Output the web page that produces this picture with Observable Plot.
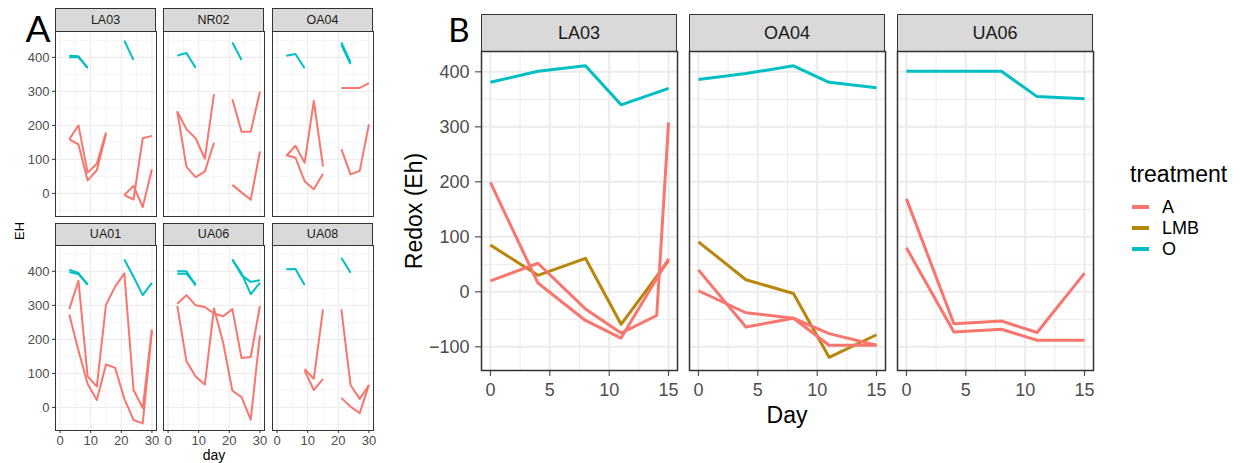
<!DOCTYPE html>
<html><head><meta charset="utf-8">
<script src="https://cdn.jsdelivr.net/npm/d3@7"></script>
<script src="https://cdn.jsdelivr.net/npm/@observablehq/plot@0.6"></script>
<style>
html,body{margin:0;padding:0;background:#fff;}
#fig{position:relative;width:1244px;height:463px;overflow:hidden;background:#fff;font-family:"Liberation Sans",Arial,sans-serif;}
.txt{position:absolute;white-space:nowrap;line-height:1;color:#000;}
.strip{position:absolute;box-sizing:border-box;background:#D9D9D9;border:1px solid #333;color:#1A1A1A;display:flex;align-items:center;justify-content:center;line-height:1;}
svg{overflow:visible;}
</style></head><body><div id="fig"></div>
<script>
// ---------- shared ----------
const treatments = ["A", "LMB", "O"];
const treatmentColors = ["#F8766D", "#B8860B", "#00BFC4"];

// ---------- Panel A (EH by day, six sites) ----------
const sitesA = ["LA03", "NR02", "OA04", "UA01", "UA06", "UA08"];
const xTicksA = [0, 10, 20, 30];
const xMinorA = [5, 15, 25];
const yTicksA = [0, 100, 200, 300, 400];
const yMinorA = [-50, 50, 150, 250, 350, 450];
// each line: [treatment, days, EH]
const ehLA03 = [
  ["O", [3, 6, 9], [405, 403, 368]],
  ["O", [3, 6, 9], [400, 400, 370]],
  ["O", [21, 24], [449, 392]],
  ["A", [3, 6, 9, 12, 15], [159, 200, 61, 87, 179]],
  ["A", [3, 6, 9, 12, 15], [159, 144, 38, 68, 174]],
  ["A", [21, 24, 27, 30], [-5, 22, -40, 71]],
  ["A", [21, 24, 27, 30], [-5, -18, 162, 169]]
];
const ehNR02 = [
  ["O", [3, 6, 9], [405, 413, 369]],
  ["O", [21, 24], [444, 392]],
  ["A", [3, 6, 9, 12, 15], [241, 189, 162, 102, 292]],
  ["A", [3, 6, 9, 12, 15], [241, 78, 48, 64, 149]],
  ["A", [21, 24, 27, 30], [277, 181, 181, 299]],
  ["A", [21, 24, 27, 30], [25, 3, -19, 123]]
];
const ehOA04 = [
  ["O", [3, 6, 9], [405, 410, 368]],
  ["O", [21, 24], [444, 385]],
  ["O", [21, 24], [437, 380]],
  ["A", [3, 6, 9, 12, 15], [110, 140, 90, 272, 79]],
  ["A", [3, 6, 9, 12, 15], [113, 105, 36, 12, 58]],
  ["A", [21, 24, 27, 30], [310, 310, 310, 324]],
  ["A", [21, 24, 27, 30], [130, 56, 66, 203]]
];
const ehUA01 = [
  ["O", [3, 6, 9], [405, 395, 360]],
  ["O", [3, 6, 9], [398, 392, 362]],
  ["O", [21, 24, 27, 30], [435, 384, 330, 366]],
  ["A", [3, 6, 9, 12, 15, 18, 21, 24, 27, 30], [289, 372, 91, 61, 302, 355, 394, 51, -2, 229]],
  ["A", [3, 6, 9, 12, 15, 18, 21, 24, 27, 30], [273, 167, 69, 22, 126, 116, 25, -37, -47, 225]]
];
const ehUA06 = [
  ["O", [3, 6, 9], [400, 400, 358]],
  ["O", [3, 6, 9], [393, 393, 362]],
  ["O", [21, 24, 27, 30], [435, 389, 369, 374]],
  ["O", [21, 24, 27, 30], [435, 394, 333, 366]],
  ["A", [3, 6, 9, 12, 15, 18, 21, 24, 27, 30], [305, 330, 300, 295, 276, 268, 289, 145, 148, 298]],
  ["A", [3, 6, 9, 12, 15, 18, 21, 24, 27, 30], [298, 136, 91, 67, 291, 190, 49, 30, -36, 212]]
];
const ehUA08 = [
  ["O", [3, 6, 9], [406, 407, 360]],
  ["O", [21, 24], [440, 396]],
  ["A", [9, 12, 15], [113, 84, 288]],
  ["A", [9, 12, 15], [108, 51, 84]],
  ["A", [21, 24, 27, 30], [288, 66, 25, 66]],
  ["A", [21, 24, 27, 30], [28, 2, -17, 66]]
];
const linesA = [ehLA03, ehNR02, ehOA04, ehUA01, ehUA06, ehUA08];

// ---------- Panel B (Redox by Day, three sites) ----------
const sitesB = ["LA03", "OA04", "UA06"];
const xTicksB = [0, 5, 10, 15];
const xMinorB = [2.5, 7.5, 12.5];
const yTicksB = [-100, 0, 100, 200, 300, 400];
const yMinorB = [-50, 50, 150, 250, 350];
const redoxLA03 = [
  ["O", [0, 4, 8, 11, 15], [381, 401, 411, 340, 370]],
  ["LMB", [0, 4, 8, 11, 15], [85, 30, 61, -59, 57]],
  ["A", [0, 4, 8, 11, 15], [199, 16, -52, -84, 60]],
  ["A", [0, 4, 8, 11, 14, 15], [20, 52, -31, -75, -43, 308]]
];
const redoxOA04 = [
  ["O", [0, 4, 8, 11, 15], [386, 397, 411, 381, 371]],
  ["LMB", [0, 4, 8, 11, 15], [91, 22, -3, -119, -78]],
  ["A", [0, 4, 8, 11, 15], [40, -64, -48, -97, -97]],
  ["A", [0, 4, 8, 11, 15], [2, -38, -48, -76, -97]]
];
const redoxUA06 = [
  ["O", [0, 4, 8, 11, 15], [401, 401, 401, 355, 351]],
  ["A", [0, 4, 8, 11, 15], [169, -58, -53, -74, 34]],
  ["A", [0, 4, 8, 11, 15], [80, -73, -68, -88, -88]]
];
const linesB = [redoxLA03, redoxOA04, redoxUA06];

// ---------- helpers ----------
const fig = document.getElementById("fig");
function rows(lines) {
  const out = [];
  lines.forEach((l, i) => l[1].forEach((d, j) => out.push({trt: l[0], day: d, v: l[2][j], id: i})));
  return out;
}
function addText(str, cx, cy, size, opts = {}) {
  const d = document.createElement("div");
  d.className = "txt";
  d.textContent = str;
  d.style.fontSize = size + "px";
  if (opts.family) d.style.fontFamily = opts.family;
  if (opts.lineHeight) d.style.lineHeight = opts.lineHeight;
  d.style.left = cx + "px";
  d.style.top = cy + "px";
  d.style.transform = "translate(-50%,-50%)" + (opts.rotate ? " rotate(-90deg)" : "");
  fig.appendChild(d);
  return d;
}
function addStrip(label, left, top, w, h, size) {
  const d = document.createElement("div");
  d.className = "strip";
  d.textContent = label;
  d.style.left = left + "px"; d.style.top = top + "px";
  d.style.width = w + "px"; d.style.height = h + "px";
  d.style.fontSize = size + "px";
  fig.appendChild(d);
}
function facet(o) {
  const mL = 70, mR = 6, mT = 6, mB = 40;
  const marks = [
    Plot.gridX({ticks: o.xMinor, stroke: "#EBEBEB", strokeOpacity: 1, strokeWidth: o.gridMinorW}),
    Plot.gridY({ticks: o.yMinor, stroke: "#EBEBEB", strokeOpacity: 1, strokeWidth: o.gridMinorW}),
    Plot.gridX({ticks: o.xTicks, stroke: "#EBEBEB", strokeOpacity: 1, strokeWidth: o.gridW}),
    Plot.gridY({ticks: o.yTicks, stroke: "#EBEBEB", strokeOpacity: 1, strokeWidth: o.gridW}),
    Plot.line(rows(o.lines), {x: "day", y: "v", z: "id", stroke: "trt", strokeWidth: o.lineW,
      strokeLinejoin: "round", strokeLinecap: "butt"}),
    Plot.frame({stroke: "#333333", strokeWidth: o.frameW})
  ];
  if (o.showX) marks.push(Plot.axisX({ticks: o.xTicks, tickSize: o.tickSize, tickPadding: o.xPad,
    fontSize: o.fontSize, stroke: "#333333", fill: "#4D4D4D", label: null}));
  if (o.showY) marks.push(Plot.axisY({ticks: o.yTicks, tickSize: o.tickSize, tickPadding: o.yPad,
    fontSize: o.fontSize, stroke: "#333333", fill: "#4D4D4D", label: null}));
  const chart = Plot.plot({
    width: o.w + mL + mR, height: o.h + mT + mB,
    marginLeft: mL, marginRight: mR, marginTop: mT, marginBottom: mB,
    x: Object.assign({domain: o.xDomain}, o.showX ? {} : {axis: null}),
    y: Object.assign({domain: o.yDomain}, o.showY ? {} : {axis: null}),
    color: {domain: treatments, range: treatmentColors},
    style: {background: "transparent", fontFamily: "'Liberation Sans', Arial, sans-serif",
      fontSize: o.fontSize + "px", overflow: "visible"},
    marks
  });
  chart.style.position = "absolute";
  chart.style.left = (o.left - mL) + "px";
  chart.style.top = (o.top - mT) + "px";
  fig.appendChild(chart);
}

// ---------- draw panel A ----------
const colLeftA = [55, 163, 272];
const rowStripTopA = [8, 223];
const rowPanelTopA = [31, 245];
const wA = 101, hA = 185;
sitesA.forEach((site, i) => {
  const c = i % 3, r = Math.floor(i / 3);
  addStrip(site, colLeftA[c], rowStripTopA[r], wA, rowPanelTopA[r] - rowStripTopA[r] + 1, 12.5);
  facet({
    lines: linesA[i], left: colLeftA[c], top: rowPanelTopA[r], w: wA, h: hA,
    xDomain: [-1.5, 31.5], yDomain: [-68, 476],
    xTicks: xTicksA, xMinor: xMinorA, yTicks: yTicksA, yMinor: yMinorA,
    showX: r === 1, showY: c === 0,
    lineW: 2, gridW: 1, gridMinorW: 0.5, frameW: 1, fontSize: 13,
    tickSize: 3, xPad: 2, yPad: 3
  });
});
addText("A", 38, 28, 37, {family: "Lato, 'Open Sans', sans-serif", lineHeight: 0.7});
addText("EH", 19, 231, 13, {rotate: true});
addText("day", 214, 455, 14);

// ---------- draw panel B ----------
const colLeftB = [481, 689, 897];
const wB = 196, hB = 319;
sitesB.forEach((site, i) => {
  addStrip(site, colLeftB[i], 14, wB, 38, 18);
  facet({
    lines: linesB[i], left: colLeftB[i], top: 51, w: wB, h: hB,
    xDomain: [-0.75, 15.75], yDomain: [-143, 437],
    xTicks: xTicksB, xMinor: xMinorB, yTicks: yTicksB, yMinor: yMinorB,
    showX: true, showY: i === 0,
    lineW: 3, gridW: 2, gridMinorW: 1, frameW: 1.5, fontSize: 18,
    tickSize: 6, xPad: 7, yPad: 6
  });
});
addText("B", 459, 30, 33, {family: "Lato, 'Open Sans', sans-serif", lineHeight: 0.72});
addText("Redox (Eh)", 414, 211, 23, {rotate: true});
addText("Day", 787, 415, 23);

// ---------- legend ----------
const leg = document.createElement("div");
leg.className = "txt";
leg.style.left = "1130px"; leg.style.top = "163px"; leg.style.fontSize = "23px";
leg.textContent = "treatment";
fig.appendChild(leg);
const legY = [207, 228, 249];
treatments.forEach((t, i) => {
  const k = document.createElement("div");
  k.style.position = "absolute";
  k.style.left = "1132px"; k.style.top = (legY[i] - 2) + "px";
  k.style.width = "17px"; k.style.height = "4px";
  k.style.background = treatmentColors[i];
  fig.appendChild(k);
  const l = document.createElement("div");
  l.className = "txt";
  l.style.left = "1162px"; l.style.top = (legY[i] - 9) + "px";
  l.style.fontSize = "18px";
  l.textContent = t;
  fig.appendChild(l);
});
</script></body></html>
